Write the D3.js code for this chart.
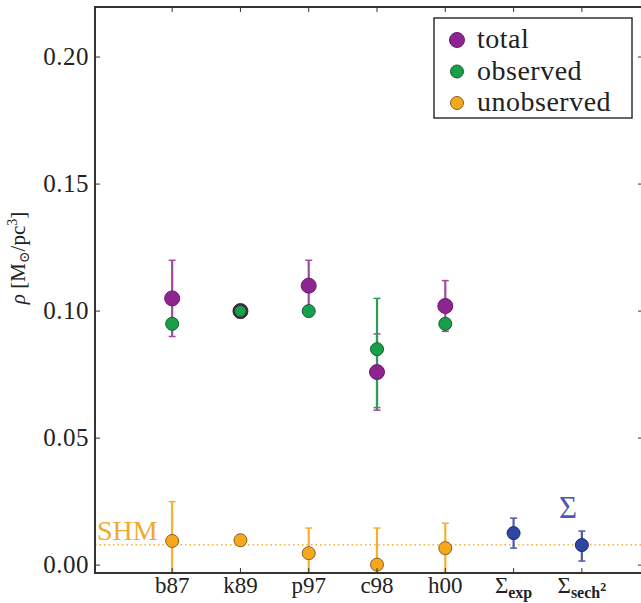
<!DOCTYPE html>
<html><head><meta charset="utf-8">
<script src="https://cdn.jsdelivr.net/npm/d3@7"></script>
<style>
body{margin:0;background:#fff;}
svg{display:block;}
</style></head>
<body><svg id="c" width="641" height="603"></svg>
<script>
// ---- data ----
const categories = ["b87","k89","p97","c98","h00"];
const totalVals = [0.105, 0.100, 0.110, 0.076, 0.102];
const totalHi   = [0.120, null, 0.120, 0.091, 0.112];
const totalLo   = [0.090, null, 0.100, 0.061, 0.092];
const obsVals   = [0.095, 0.100, 0.100, 0.085, 0.095];
const obsHi     = [null, null, null, 0.105, null];
const obsLo     = [null, null, null, 0.062, null];
const unobsVals = [0.0095, 0.0098, 0.0047, 0.0002, 0.0067];
const unobsHi   = [0.025, null, 0.0146, 0.0146, 0.0165];
const unobsLo   = [-0.006, null, -0.005, -0.015, -0.003];
const sigmaCats = ["exp", "sech2"];
const sigmaVals = [0.0126, 0.0079];
const sigmaHi   = [0.0185, 0.0134];
const sigmaLo   = [0.0067, 0.0016];
const shm = 0.008;
const yTicks = [0.00, 0.05, 0.10, 0.15, 0.20];
const legendLabels = ["total", "observed", "unobserved"];

const colTotal = "#8e2490", colObs = "#17a049", colUnobs = "#f5a81c", colSigma = "#2f45a3";
const colTotalErr = "#a04aa0", colObsErr = "#2aa050", colUnobsErr = "#f5b030", colSigmaErr = "#4a5ab0";
const FONT = "'Times New Roman', Times, 'DejaVu Serif', serif";

const svg = d3.select("#c");
const L = 95, R = 644, T = 7, B = 573;
const x = d3.scaleLinear().domain([-1.13, 6.91]).range([L, R]);
const y = d3.scaleLinear().domain([-0.0031, 0.2197]).range([B, T]);

svg.append("defs").append("clipPath").attr("id","clip")
  .append("rect").attr("x",L).attr("y",T).attr("width",R-L).attr("height",B-T);
const plot = svg.append("g").attr("clip-path","url(#clip)");

plot.append("line").attr("x1",L).attr("x2",R).attr("y1",y(shm)).attr("y2",y(shm))
  .attr("stroke","#f5b040").attr("stroke-width",1.6).attr("stroke-dasharray","1.5,3");

function errBars(vals, hi, lo, offset, color){
  vals.forEach((v,i)=>{
    if(hi[i]==null) return;
    const cx = x(i+offset);
    plot.append("line").attr("x1",cx).attr("x2",cx).attr("y1",y(hi[i])).attr("y2",y(lo[i]))
      .attr("stroke",color).attr("stroke-width",2.2);
    [hi[i],lo[i]].forEach(e=>{
      plot.append("line").attr("x1",cx-3.5).attr("x2",cx+3.5).attr("y1",y(e)).attr("y2",y(e))
        .attr("stroke",color).attr("stroke-width",1.5);
    });
  });
}
function dots(vals, offset, color, r, edge){
  vals.forEach((v,i)=>{
    plot.append("circle").attr("cx",x(i+offset)).attr("cy",y(v)).attr("r",r)
      .attr("fill",color).attr("stroke",edge).attr("stroke-width",1);
  });
}
errBars(totalVals,totalHi,totalLo,0,colTotalErr);
errBars(obsVals,obsHi,obsLo,0,colObsErr);
errBars(unobsVals,unobsHi,unobsLo,0,colUnobsErr);
errBars(sigmaVals,sigmaHi,sigmaLo,5,colSigmaErr);
dots(totalVals,0,colTotal,7.5,"#6a1a6a");
dots(obsVals,0,colObs,6.5,"#1a5a30");
plot.append("circle").attr("cx",x(1)).attr("cy",y(obsVals[1])).attr("r",6.5)
  .attr("fill",colObs).attr("stroke","#333").attr("stroke-width",2.2);
dots(unobsVals,0,colUnobs,6.5,"#8a6020");
dots(sigmaVals,5,colSigma,6.5,"#1a2a70");

const axC = "#333";
svg.append("rect").attr("x",L).attr("y",T).attr("width",R-L).attr("height",B-T)
  .attr("fill","none").attr("stroke",axC).attr("stroke-width",2);

const xTickPos = d3.range(categories.length + sigmaCats.length);
const tickG = svg.append("g").attr("stroke",axC).attr("stroke-width",1);
xTickPos.forEach(i=>{
  tickG.append("line").attr("x1",x(i)).attr("x2",x(i)).attr("y1",B).attr("y2",B-5);
  tickG.append("line").attr("x1",x(i)).attr("x2",x(i)).attr("y1",T).attr("y2",T+5);
});
yTicks.forEach(t=>{
  tickG.append("line").attr("x1",L).attr("x2",L+5).attr("y1",y(t)).attr("y2",y(t));
  tickG.append("line").attr("x1",R).attr("x2",R-6).attr("y1",y(t)).attr("y2",y(t));
});

function txt(sel){ return sel.append("text").style("font-family",FONT).attr("fill","#222"); }

yTicks.forEach(t=>{
  txt(svg).attr("x",89).attr("y",y(t)+8).attr("text-anchor","end")
    .attr("font-size",25).attr("letter-spacing",0.5).text(t.toFixed(2));
});
categories.forEach((c,i)=>{
  txt(svg).attr("x",x(i)).attr("y",593).attr("text-anchor","middle")
    .attr("font-size",23).text(c);
});
{
  const t1 = txt(svg).attr("x",x(5)).attr("y",593).attr("text-anchor","middle").attr("font-size",23);
  t1.append("tspan").text("Σ");
  t1.append("tspan").attr("dy",5).attr("font-size",16).attr("font-weight","bold").text("exp");
  const t2 = txt(svg).attr("x",x(6)).attr("y",593).attr("text-anchor","middle").attr("font-size",23);
  t2.append("tspan").text("Σ");
  t2.append("tspan").attr("dy",5).attr("font-size",16).attr("font-weight","bold").text("sech");
  t2.append("tspan").attr("dy",-7).attr("font-size",12).attr("font-weight","bold").text("2");
}

txt(svg).attr("x",97).attr("y",540).attr("font-size",28).attr("fill","#f0a830").text("SHM");
txt(svg).attr("x",568).attr("y",518).attr("text-anchor","middle").attr("font-size",31)
  .attr("fill","#4a5ab5").text("Σ");

{
  const yl = txt(svg).attr("transform","translate(25,258) rotate(-90)")
    .attr("text-anchor","middle").attr("font-size",21);
  yl.append("tspan").attr("font-style","italic").text("ρ ");
  yl.append("tspan").text("[M");
  yl.append("tspan").attr("dy",4).attr("font-size",14).text("⊙");
  yl.append("tspan").attr("dy",-4).text("/pc");
  yl.append("tspan").attr("dy",-8).attr("font-size",14).text("3");
  yl.append("tspan").attr("dy",8).text("]");
}

const lg = svg.append("g");
lg.append("rect").attr("x",434).attr("y",18).attr("width",198).attr("height",100)
  .attr("fill","#fff").attr("stroke","#333").attr("stroke-width",1.5);
const legCols = [colTotal, colObs, colUnobs];
const legR = [7.5, 6.5, 6.5];
const legEdge = ["#6a1a6a","#1a5a30","#8a6020"];
legendLabels.forEach((l,i)=>{
  const cy = 40 + i*31.5;
  lg.append("circle").attr("cx",457).attr("cy",cy).attr("r",legR[i]).attr("fill",legCols[i])
    .attr("stroke",legEdge[i]).attr("stroke-width",1);
  txt(lg).attr("x",477).attr("y",cy+8).attr("font-size",28).attr("letter-spacing",0.5).text(l);
});
</script></body></html>
